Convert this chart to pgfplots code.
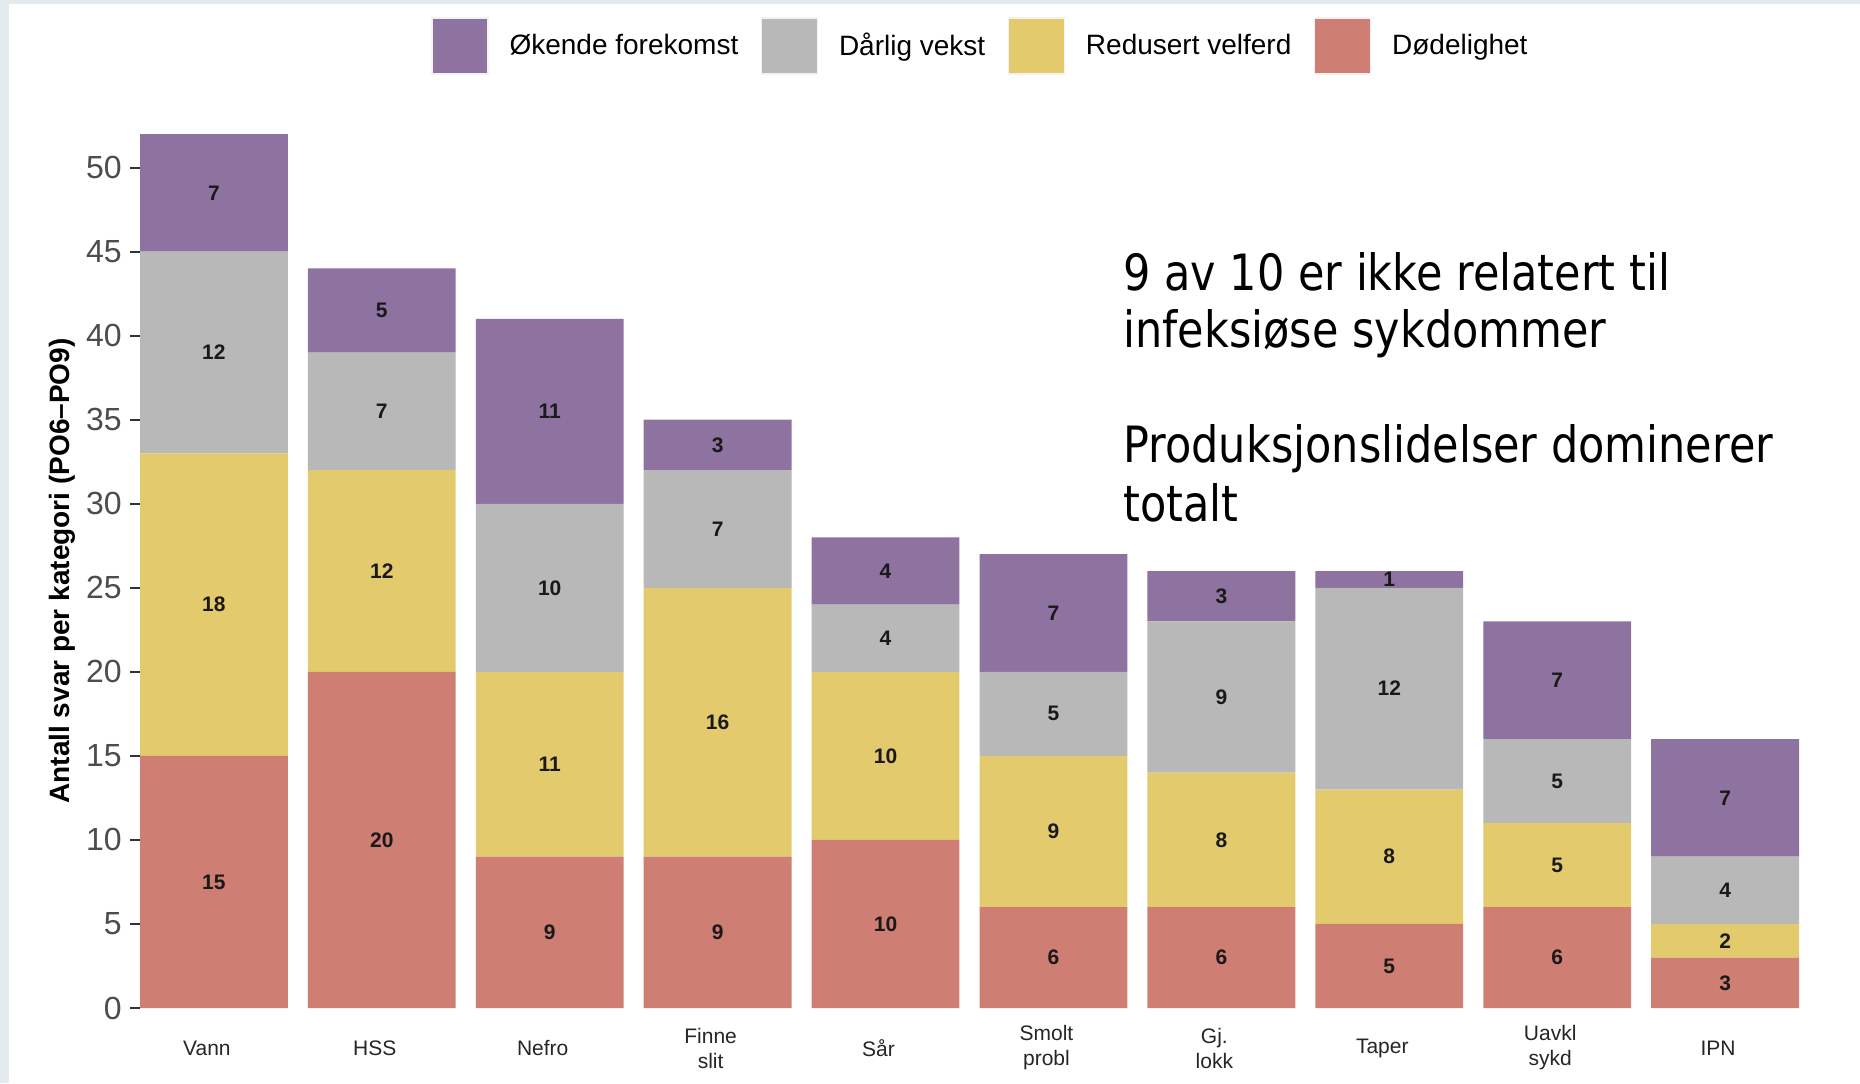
\documentclass[border=0pt]{standalone}
\usepackage{pgfplots}
\usepackage{pgfplotstable}
\pgfplotsset{compat=1.18}
\usepackage{fontspec}
\setmainfont{Liberation Sans}
\newfontfamily\annfont{DejaVu Sans}[FakeStretch=0.86]
\definecolor{cOk}{HTML}{8E72A0}
\definecolor{cDa}{HTML}{B8B8B8}
\definecolor{cRe}{HTML}{E3CB6D}
\definecolor{cDo}{HTML}{CF7E73}
\definecolor{bgstrip}{HTML}{E3EBEE}
\definecolor{tickgrey}{HTML}{4D4D4D}

% x  Dodelighet  Redusert  Darlig  Okende
\pgfplotstableread{
x D R G O
1 15 18 12 7
2 20 12 7 5
3 9 11 10 11
4 9 16 7 3
5 10 10 4 4
6 6 9 5 7
7 6 8 9 3
8 5 8 12 1
9 6 5 5 7
10 3 2 4 7
}\bars

% segment label positions (middle of each segment) and values
\pgfplotstableread{
x y v
1 7.5 15
1 24 18
1 39 12
1 48.5 7
2 10 20
2 26 12
2 35.5 7
2 41.5 5
3 4.5 9
3 14.5 11
3 25 10
3 35.5 11
4 4.5 9
4 17 16
4 28.5 7
4 33.5 3
5 5 10
5 15 10
5 22 4
5 26 4
6 3 6
6 10.5 9
6 17.5 5
6 23.5 7
7 3 6
7 10 8
7 18.5 9
7 24.5 3
8 2.5 5
8 9 8
8 19 12
8 25.5 1
9 3 6
9 8.5 5
9 13.5 5
9 19.5 7
10 1.5 3
10 4 2
10 7 4
10 12.5 7
}\labs

\begin{document}
\begin{tikzpicture}
\fill[bgstrip] (0,0) rectangle (930pt,541.5pt);
\fill[white] (4.5pt,0) rectangle (930pt,539.5pt);
\begin{axis}[
  at={(70pt,37.5pt)}, anchor=south west,
  scale only axis, width=829.5pt, height=437pt,
  xmin=0.56, xmax=10.44, ymin=0, ymax=52,
  ybar stacked, bar width=0.88,
  axis line style={draw=none},
  xtick={1,...,10},
  xticklabels={Vann,HSS,Nefro,{Finne\\slit},Sår,{Smolt\\probl},{Gj.\\lokk},Taper,{Uavkl\\sykd},IPN},
  x tick style={draw=none},
  ytick={0,5,...,50},
  tick align=outside, tickpos=left, major tick length=5pt,
  y tick style={draw=black!80, line width=1pt},
  /pgf/number format/assume math mode=true,
  yticklabel style={font=\fontsize{16}{16}\selectfont, text=tickgrey, inner xsep=4pt},
  xticklabel style={font=\fontsize{10.5}{12.5}\selectfont, text=black!85, align=center, anchor=center, yshift=-15pt, xshift=-3.5pt},
  ylabel={Antall svar per kategori (PO6–PO9)},
  every axis y label/.style={at={(axis description cs:-0.047,0.5)}, rotate=90, anchor=center, font=\bfseries\fontsize{14}{16}\selectfont},
  legend columns=4,
  reverse legend,
  legend style={at={(axis description cs:0.506,1.1007)}, anchor=center, draw=none, fill=none,
    font=\fontsize{14}{16}\selectfont,
    nodes={inner sep=0pt},
    column sep=10.5pt,
    /tikz/every even column/.append style={column sep=11.25pt}},
  legend image code/.code={\draw[#1, draw=black!5, line width=0.6pt] (0pt,-14pt) rectangle (28pt,14pt);},
]
\addplot[fill=cDo, draw=none] table[x=x, y=D] {\bars};
\addlegendentry{Dødelighet}
\addplot[fill=cRe, draw=none] table[x=x, y=R] {\bars};
\addlegendentry{Redusert velferd}
\addplot[fill=cDa, draw=none] table[x=x, y=G] {\bars};
\addlegendentry{Dårlig vekst}
\addplot[fill=cOk, draw=none] table[x=x, y=O] {\bars};
\addlegendentry{Økende forekomst}
\end{axis}
\begin{axis}[
  at={(70pt,37.5pt)}, anchor=south west,
  scale only axis, width=829.5pt, height=437pt,
  xmin=0.56, xmax=10.44, ymin=0, ymax=52,
  hide axis,
]
\addplot[draw=none, mark=none, nodes near coords, point meta=explicit symbolic,
  nodes near coords align=center,
  every node near coord/.append style={anchor=center, inner sep=0pt, text=black!90,
    font=\bfseries\fontsize{10.5}{12}\selectfont}]
  table[x=x, y=y, meta=v] {\labs};
\end{axis}
\begin{scope}[every node/.style={anchor=base west, inner sep=0pt, font=\annfont\fontsize{25}{30}\selectfont}]
\node at (561.5pt,396.2pt) {9 av 10 er ikke relatert til};
\node at (561.5pt,367.8pt) {infeksiøse sykdommer};
\node at (561.5pt,310.2pt) {Produksjonslidelser dominerer};
\node at (561.5pt,280.8pt) {totalt};
\end{scope}
\end{tikzpicture}
\end{document}
